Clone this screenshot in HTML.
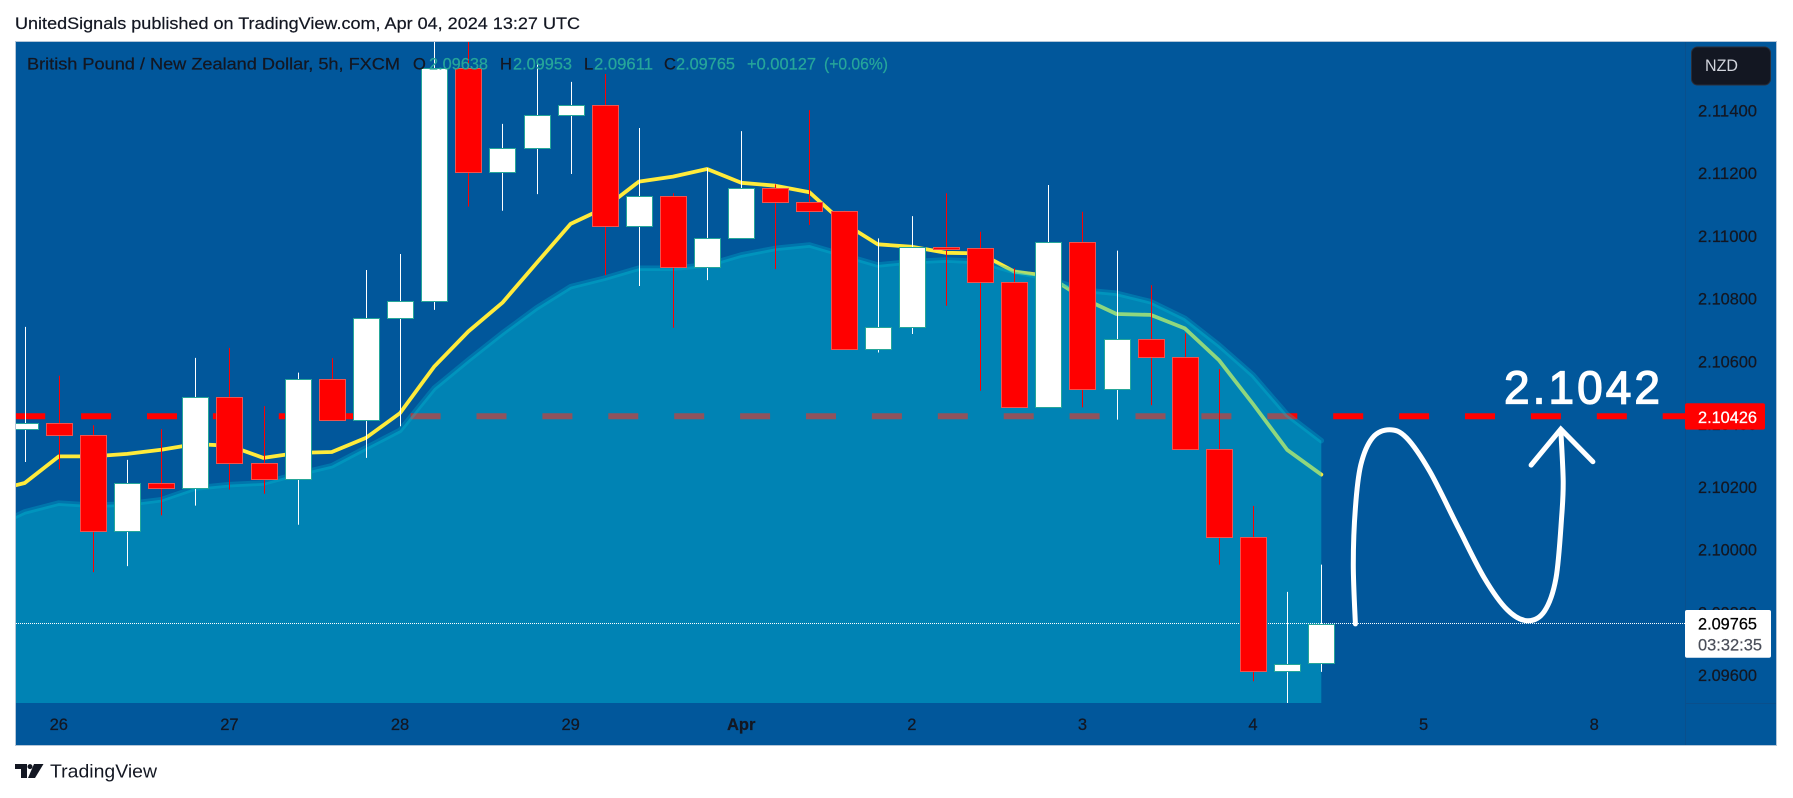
<!DOCTYPE html>
<html lang="en">
<head>
<meta charset="utf-8">
<title>GBPNZD 5h chart</title>
<style>
html,body{margin:0;padding:0;background:#fff;}
body{width:1793px;height:798px;overflow:hidden;}
svg{display:block;}
text{font-family:"Liberation Sans",sans-serif;}
</style>
</head>
<body>
<svg id="chart" width="1793" height="798" viewBox="0 0 1793 798" xmlns="http://www.w3.org/2000/svg">
  <defs>
    <clipPath id="pane-clip"><rect x="16" y="42" width="1669" height="661"></rect></clipPath>
  </defs>
  <rect x="0" y="0" width="1793" height="798" fill="#ffffff"></rect>
  <text x="15" y="29" font-size="17" fill="#131722" stroke="#131722" stroke-width="0.2" textLength="565" lengthAdjust="spacingAndGlyphs">UnitedSignals published on TradingView.com, Apr 04, 2024 13:27 UTC</text>
  <rect x="15.5" y="41.5" width="1761" height="704" fill="#01579b" stroke="#b4c6d8" stroke-width="1"></rect>
  <line x1="1685.5" y1="42" x2="1685.5" y2="745" stroke="#0a4f8c" stroke-width="1"></line>
  <line x1="1685.5" y1="703.5" x2="1776" y2="703.5" stroke="#0a4f8c" stroke-width="1"></line>
  <g id="pane" clip-path="url(#pane-clip)"></g>
  <g id="axes"></g>
  <g id="legend" font-size="16.5" stroke-width="0.25">
    <text x="27" y="69.5" fill="#131722" stroke="#131722" textLength="373" lengthAdjust="spacingAndGlyphs">British Pound / New Zealand Dollar, 5h, FXCM</text>
    <text x="413" y="69.5" fill="#131722" stroke="#131722">O</text>
    <text x="429" y="69.5" fill="#26a69a" stroke="#26a69a" textLength="59" lengthAdjust="spacingAndGlyphs">2.09638</text>
    <text x="500" y="69.5" fill="#131722" stroke="#131722">H</text>
    <text x="513" y="69.5" fill="#26a69a" stroke="#26a69a" textLength="59" lengthAdjust="spacingAndGlyphs">2.09953</text>
    <text x="584" y="69.5" fill="#131722" stroke="#131722">L</text>
    <text x="594" y="69.5" fill="#26a69a" stroke="#26a69a" textLength="59" lengthAdjust="spacingAndGlyphs">2.09611</text>
    <text x="664" y="69.5" fill="#131722" stroke="#131722">C</text>
    <text x="676" y="69.5" fill="#26a69a" stroke="#26a69a" textLength="59" lengthAdjust="spacingAndGlyphs">2.09765</text>
    <text x="747" y="69.5" fill="#26a69a" stroke="#26a69a" textLength="69" lengthAdjust="spacingAndGlyphs">+0.00127</text>
    <text x="824" y="69.5" fill="#26a69a" stroke="#26a69a" textLength="64" lengthAdjust="spacingAndGlyphs">(+0.06%)</text>
  </g>
  <g>
    <rect x="1691.5" y="47" width="79" height="38" rx="6" fill="#131722" stroke="#2a2e39"></rect>
    <text x="1705" y="71" font-size="16.5" fill="#d1d4dc" textLength="33" lengthAdjust="spacingAndGlyphs">NZD</text>
  </g>
  <g id="labels"></g>
  <g>
    <g fill="#131722">
      <path d="M15 764H27V778H21V769H15Z"></path>
      <circle cx="30" cy="766.6" r="2.5"></circle>
      <path d="M34 764H43.5L35 778H28Z"></path>
    </g>
    <text x="50" y="777.7" font-size="18" fill="#131722" textLength="107" lengthAdjust="spacingAndGlyphs">TradingView</text>
  </g>
</svg>
<script>
// --- chart data (prices) ---
const opens = [2.10384,2.10403,2.10367,2.10061,2.10212,2.10198,2.10488,2.10276,2.10227,2.10544,2.10413,2.10738,2.10794,2.11535,2.11206,2.1128,2.11385,2.11417,2.11033,2.11127,2.10901,2.10993,2.11153,2.11108,2.11081,2.10639,2.1071,2.10965,2.10961,2.10855,2.10454,2.1098,2.10513,2.10671,2.10614,2.10321,2.1004,2.09613,2.09638];
const highs = [2.10711,2.10555,2.10397,2.10287,2.10385,2.10612,2.10644,2.10458,2.10565,2.10611,2.10892,2.10943,2.1165,2.1165,2.11358,2.11551,2.11492,2.11517,2.11345,2.11137,2.11217,2.11335,2.11165,2.11402,2.11081,2.10993,2.11064,2.11137,2.11014,2.10898,2.11163,2.11078,2.10954,2.10844,2.1069,2.10576,2.1014,2.09866,2.09953];
const lows = [2.1028,2.10256,2.09929,2.09948,2.1011,2.10141,2.10192,2.10179,2.1008,2.10413,2.10293,2.10394,2.10765,2.11094,2.11081,2.11134,2.11198,2.10876,2.10841,2.10708,2.1086,2.10993,2.10895,2.11036,2.10639,2.10629,2.10688,2.10778,2.10507,2.10454,2.10454,2.10454,2.10415,2.10461,2.10321,2.09953,2.09581,2.0951,2.09611];
const closes = [2.10403,2.10367,2.10061,2.10212,2.10198,2.10488,2.10276,2.10227,2.10544,2.10413,2.10738,2.10794,2.11535,2.11206,2.1128,2.11385,2.11417,2.11033,2.11127,2.10901,2.10993,2.11153,2.11108,2.11081,2.10639,2.1071,2.10965,2.10959,2.10855,2.10454,2.1098,2.10513,2.10671,2.10614,2.10321,2.1004,2.09613,2.09637,2.09765];
// moving averages: first value belongs to the bar just before the visible window
const fastAverage = [2.10186,2.10213,2.10298,2.10298,2.10306,2.10319,2.10337,2.10332,2.10293,2.10309,2.10312,2.10357,2.10436,2.10584,2.10696,2.10788,2.10914,2.11039,2.1109,2.11174,2.1119,2.11214,2.1117,2.11161,2.1114,2.11042,2.10974,2.10966,2.10947,2.10945,2.10887,2.10873,2.10803,2.10752,2.10749,2.10706,2.10605,2.10465,2.10319,2.1024];
const slowAverage = [2.1007,2.10121,2.10149,2.10142,2.10146,2.1016,2.10197,2.10208,2.10213,2.10242,2.10268,2.10325,2.10381,2.10515,2.10605,2.10691,2.10771,2.10839,2.10866,2.10898,2.10898,2.10908,2.1094,2.10961,2.10972,2.1094,2.10908,2.10919,2.10924,2.10919,2.10887,2.10866,2.10828,2.10818,2.10791,2.10738,2.10653,2.10557,2.10431,2.10348];
const priceTicks = [2.114,2.112,2.110,2.108,2.106,2.104,2.102,2.100,2.098,2.096];
const timeLabels = ["26","27","28","29","Apr","2","3","4","5","8"];
const timeLabelBars = [1,6,11,16,21,26,31,36,41,46];
const targetPrice = 2.10426;
const lastPrice = 2.09765;
const countdown = "03:32:35";
// hand-drawn forecast annotation (bar index, price)
const drawingBars = [39,38.94,39,39.16,39.5,40,40.5,41.18,42.02,42.78,43.45,44.04,44.54,44.88,45.05,45.09,45.02];
const drawingPrices = [2.09764,2.09953,2.10133,2.10271,2.10357,2.10383,2.10357,2.1025,2.1007,2.0991,2.09809,2.09774,2.09804,2.0991,2.10112,2.10219,2.10383];
const arrowBars = [44.15,45.02,45.96];
const arrowPrices = [2.10270,2.10385,2.10281];

// --- axis functions ---
function xScale(bar){ return 24.7 + 34.12 * bar; }
function yScale(price){ return 110.7 + (2.114 - price) * 31367; }

const NS = "http://www.w3.org/2000/svg";
function make(tag, attrs, parent){
  const el = document.createElementNS(NS, tag);
  for (const k in attrs) el.setAttribute(k, attrs[k]);
  parent.appendChild(el);
  return el;
}
const pane = document.getElementById("pane");
const axes = document.getElementById("axes");
const labels = document.getElementById("labels");

// target dashed line
const targetLine = make("line", {x1:15.2, x2:1685, y1:yScale(targetPrice), y2:yScale(targetPrice), stroke:"#ff0000", "stroke-width":6, "stroke-dasharray":"30 35.9"}, pane);



// fast average
const fastPts = fastAverage.map((v,i)=>xScale(i-1).toFixed(1)+","+yScale(v).toFixed(1)).join(" ");
const fastLine = make("polyline", {points:fastPts, fill:"none", stroke:"#ffeb3b", "stroke-width":3.8, "stroke-linejoin":"round", "stroke-linecap":"round"}, pane);



// slow average with area fill (drawn over the lines, under the candles)
const slowPts = slowAverage.map((v,i)=>xScale(i-1).toFixed(1)+","+yScale(v).toFixed(1));
const lastBar = slowAverage.length - 2;
const areaPts = slowPts.join(" ") + " " + xScale(lastBar).toFixed(1) + ",703 " + xScale(-1).toFixed(1) + ",703";
const slowArea = make("polygon", {points:areaPts, fill:"#00bcd4", "fill-opacity":0.44}, pane);


const slowLine = make("polyline", {points:slowPts.join(" "), fill:"none", stroke:"#00bcd4", "stroke-opacity":0.3, "stroke-width":5.5, "stroke-linejoin":"round", "stroke-linecap":"round"}, pane);



// last price dotted line
const lastLine = make("line", {x1:16, x2:1685, y1:yScale(lastPrice), y2:yScale(lastPrice), stroke:"#ffffff", "stroke-width":1, "stroke-dasharray":"1 1"}, pane);



// candles
opens.forEach(function(open, i){
  const close = closes[i];
  const up = close >= open;
  const cx = Math.round(xScale(i)) + 0.5;
  const wick = make("line", {x1:cx, x2:cx, y1:yScale(highs[i]), y2:yScale(lows[i]), stroke: up ? "#ffffff" : "#ff0000", "stroke-width":1}, pane);
  
  
  const top = Math.round(yScale(Math.max(open, close))) + 0.5;
  const bottom = Math.round(yScale(Math.min(open, close))) + 0.5;
  const body = make("rect", {x:cx-13, y:top, width:26, height:Math.max(bottom-top,1), fill: up ? "#ffffff" : "#ff0000", stroke: up ? "#26a69a" : "#ef5350", "stroke-width":1}, pane);
  
  
});

// smooth path through annotated points
function smoothPath(xs, ys){
  let d = "M" + xs[0].toFixed(1) + " " + ys[0].toFixed(1);
  for (let i = 0; i < xs.length - 1; i++){
    const a = Math.max(i-1,0), b = Math.min(i+2,xs.length-1);
    const c1x = xs[i] + (xs[i+1]-xs[a])/6, c1y = ys[i] + (ys[i+1]-ys[a])/6;
    const c2x = xs[i+1] - (xs[b]-xs[i])/6, c2y = ys[i+1] - (ys[b]-ys[i])/6;
    d += "C" + c1x.toFixed(1) + " " + c1y.toFixed(1) + " " + c2x.toFixed(1) + " " + c2y.toFixed(1) + " " + xs[i+1].toFixed(1) + " " + ys[i+1].toFixed(1);
  }
  return d;
}
const curve = make("path", {d:smoothPath(drawingBars.map(xScale), drawingPrices.map(yScale)), fill:"none", stroke:"#ffffff", "stroke-width":5, "stroke-linecap":"round", "stroke-linejoin":"round"}, pane);


const arrowPts = arrowBars.map((b,i)=>xScale(b).toFixed(1)+","+yScale(arrowPrices[i]).toFixed(1)).join(" ");
const arrow = make("polyline", {points:arrowPts, fill:"none", stroke:"#ffffff", "stroke-width":5, "stroke-linecap":"round", "stroke-linejoin":"miter"}, pane);


const note = make("text", {x:1504, y:403.3, "font-size":46, fill:"#ffffff", stroke:"#ffffff", "stroke-width":1.3, textLength:156, lengthAdjust:"spacing"}, pane);
note.textContent = "2.1042";



// price axis ticks
priceTicks.forEach(function(p){
  const t = make("text", {x:1698, y:yScale(p)+5.8, "font-size":16.5, fill:"#131722", stroke:"#131722", "stroke-width":0.25, textLength:59, lengthAdjust:"spacingAndGlyphs"}, axes);
  t.textContent = p.toFixed(5);
  
  
});

// time axis labels
timeLabels.forEach(function(label, i){
  const t = make("text", {x:xScale(timeLabelBars[i]), y:730, "font-size":16.5, fill:"#131722", stroke:"#131722", "stroke-width":0.25, "text-anchor":"middle", "font-weight": label === "Apr" ? "bold" : "normal"}, axes);
  t.textContent = label;
  
  
});

// price labels
const redBox = make("rect", {x:1685, y:403.3, width:80, height:26.3, rx:2, fill:"#ff0000"}, labels);


const redText = make("text", {x:1698, y:yScale(targetPrice)+6.8, "font-size":16.5, fill:"#ffffff", stroke:"#ffffff", "stroke-width":0.25, textLength:59, lengthAdjust:"spacingAndGlyphs"}, labels);
redText.textContent = targetPrice.toFixed(5);


const whiteBox = make("rect", {x:1685, y:610, width:86, height:47.7, rx:2, fill:"#ffffff"}, labels);


const whiteText = make("text", {x:1698, y:yScale(lastPrice)+6, "font-size":16.5, fill:"#000000", stroke:"#000000", "stroke-width":0.25, textLength:59, lengthAdjust:"spacingAndGlyphs"}, labels);
whiteText.textContent = lastPrice.toFixed(5);


const clockText = make("text", {x:1698, y:yScale(lastPrice)+27, "font-size":16.5, fill:"#4a4e59", stroke:"#4a4e59", "stroke-width":0.2, textLength:64, lengthAdjust:"spacingAndGlyphs"}, labels);
clockText.textContent = countdown;


</script>
</body>
</html>
